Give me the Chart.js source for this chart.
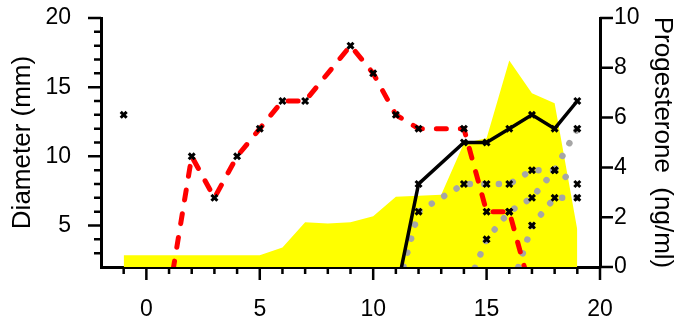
<!DOCTYPE html>
<html>
<head>
<meta charset="utf-8">
<script src="https://cdn.jsdelivr.net/npm/chart.js@4.4.1/dist/chart.umd.min.js"></script>
<style>
	html, body { margin: 0; padding: 0; background: #fff; }
	#wrap { width: 680px; height: 322px; }
</style>
</head>
<body>
<div id="wrap"><canvas id="chartFollicle" width="680" height="322"></canvas></div>
<script>
'use strict'

// follicle diameters (mm, left axis) by day
const redDays = [1, 2, 3, 4, 5, 6, 7, 9, 10, 11, 12, 14, 15, 16, 17]
const redDiameter = [0, 10, 7, 10, 12, 14, 14, 18, 16, 13, 12, 12, 6, 6, 0]
const blackDays = [11, 12, 14, 15, 16, 17, 18, 19]
const blackDiameter = [0, 8, 11, 11, 12, 13, 12, 14]
const grayADays = [11, 12, 14, 15, 16, 17, 18, 19]
const grayADiameter = [0, 6, 8, 8, 8, 9, 9, 8]
const grayBDays = [14, 15, 16, 17, 18, 19]
const grayBDiameter = [0, 4, 6, 7, 9, 12]
const grayCDays = [16, 17, 18, 19]
const grayCDiameter = [0, 5, 7, 7]
const loneDays = [-1]
const loneDiameter = [13]

// progesterone (ng/ml, right axis)
const progDays = [-1, 0, 1, 2, 3, 4, 5, 6, 7, 8, 9, 10, 11, 12, 13, 14, 15, 16, 17, 18, 19]
const progesterone = [0.47, 0.47, 0.47, 0.47, 0.47, 0.47, 0.47, 0.78, 1.8, 1.75, 1.8, 2.04, 2.82, 2.86, 2.9, 4.97, 5.17, 8.29, 6.98, 6.58, 1.5]

const xTickLabels = [0, 5, 10, 15, 20]
const leftTickLabels = [5, 10, 15, 20]
const rightTickLabels = [0, 2, 4, 6, 8, 10]

const fontFamily = '"Liberation Sans", Arial, Helvetica, sans-serif'
const tickFont = {family: fontFamily, size: 23}
const titleFont = {family: fontFamily, size: 26}

function toPoints(xs, ys){
	return xs.map((x, i) => ({x: x, y: ys[i]}))
}

// every measured follicle point gets a cross
const crossPoints = []
;[[redDays, redDiameter], [blackDays, blackDiameter], [grayADays, grayADiameter],
	[grayBDays, grayBDiameter], [grayCDays, grayCDiameter], [loneDays, loneDiameter]].forEach(([xs, ys]) => {
	toPoints(xs, ys).forEach(p => { if(p.y >= 2) crossPoints.push(p) })
})

// outward tick marks, long ones on labelled values
const axisTicks = {
	id: 'axisTicks',
	afterDraw(chart){
		const ctx = chart.ctx
		const {x, y, y2} = chart.scales
		ctx.save()
		ctx.strokeStyle = '#000'
		ctx.lineWidth = 2.5
		ctx.beginPath()
		for(let d = -1; d <= 20; d++){
			const px = x.getPixelForValue(d)
			const len = d % 5 === 0 ? 13 : 7
			ctx.moveTo(px, y.bottom)
			ctx.lineTo(px, y.bottom + len)
		}
		for(let v = 3; v <= 20; v++){
			const py = y.getPixelForValue(v)
			const len = v % 5 === 0 ? 13 : 7
			ctx.moveTo(x.left, py)
			ctx.lineTo(x.left - len, py)
		}
		rightTickLabels.forEach(v => {
			const py = y2.getPixelForValue(v)
			ctx.moveTo(x.right, py)
			ctx.lineTo(x.right + 13, py)
		})
		ctx.stroke()
		ctx.restore()
	}
}

const dotted = {
	borderColor: '#a6a6a6',
	borderWidth: 6.5,
	borderDash: [0.01, 14.5],
	borderCapStyle: 'round',
	pointRadius: 0,
	clip: 0,
	yAxisID: 'y',
}

new Chart(document.getElementById('chartFollicle'), {
	type: 'line',
	data: {
		datasets: [
			{
				label: 'crosses',
				data: crossPoints,
				showLine: false,
				pointStyle: 'crossRot',
				pointRadius: 4.2,
				pointBorderWidth: 3,
				pointBorderColor: '#000',
				pointBackgroundColor: '#000',
				yAxisID: 'y',
			},
			{
				label: 'red',
				data: toPoints(redDays, redDiameter),
				borderColor: '#ff0000',
				borderWidth: 5,
				borderDash: [10, 14],
				borderCapStyle: 'round',
				borderJoinStyle: 'round',
				pointRadius: 0,
				clip: 0,
				yAxisID: 'y',
			},
			{
				label: 'black',
				data: toPoints(blackDays, blackDiameter),
				borderColor: '#000',
				borderWidth: 3.5,
				pointRadius: 0,
				clip: 0,
				yAxisID: 'y',
			},
			Object.assign({label: 'grayA', data: toPoints(grayADays, grayADiameter)}, dotted),
			Object.assign({label: 'grayB', data: toPoints(grayBDays, grayBDiameter)}, dotted),
			Object.assign({label: 'grayC', data: toPoints(grayCDays, grayCDiameter)}, dotted),
			{
				label: 'Progesterone',
				data: toPoints(progDays, progesterone),
				borderColor: 'rgba(0,0,0,0)',
				borderWidth: 1,
				backgroundColor: '#ffff00',
				fill: 'origin',
				pointRadius: 0,
				yAxisID: 'y2',
			},
		],
	},
	options: {
		responsive: false,
		animation: false,
		devicePixelRatio: 1,
		layout: {padding: {top: 18, left: 0, right: 0, bottom: 0}},
		plugins: {
			legend: {display: false},
			tooltip: {enabled: false},
		},
		scales: {
			x: {
				type: 'linear',
				position: 'bottom',
				min: -2,
				max: 20,
				z: 1,
				afterBuildTicks: s => { s.ticks = xTickLabels.map(v => ({value: v})) },
				afterFit: s => { s.height = 55 },
				// invisible tick length only offsets the labels
				grid: {display: false, drawTicks: true, tickLength: 29},
				border: {display: true, width: 3, color: '#000'},
				ticks: {font: tickFont, color: '#000', padding: 0, maxRotation: 0, autoSkip: false},
			},
			y: {
				type: 'linear',
				position: 'left',
				min: 2,
				max: 20,
				z: 1,
				afterBuildTicks: s => { s.ticks = leftTickLabels.map(v => ({value: v})) },
				afterFit: s => { s.width = 101 },
				grid: {display: false, drawTicks: true, tickLength: 30},
				border: {display: true, width: 3, color: '#000'},
				ticks: {font: tickFont, color: '#000', padding: 0, autoSkip: false},
				title: {display: true, text: 'Diameter (mm)', font: titleFont, color: '#000', padding: {top: 7, bottom: 0}},
			},
			y2: {
				type: 'linear',
				position: 'right',
				min: 0,
				max: 10,
				z: 1,
				afterBuildTicks: s => { s.ticks = rightTickLabels.map(v => ({value: v})) },
				afterFit: s => { s.width = 80 },
				grid: {display: false, drawTicks: true, tickLength: 14},
				border: {display: true, width: 3, color: '#000'},
				ticks: {font: tickFont, color: '#000', padding: 0, autoSkip: false},
				title: {display: true, text: 'Progesterone  (ng/ml)', font: titleFont, color: '#000', padding: {top: 2, bottom: 0}},
			},
		},
	},
	plugins: [axisTicks],
})
</script>
</body>
</html>
